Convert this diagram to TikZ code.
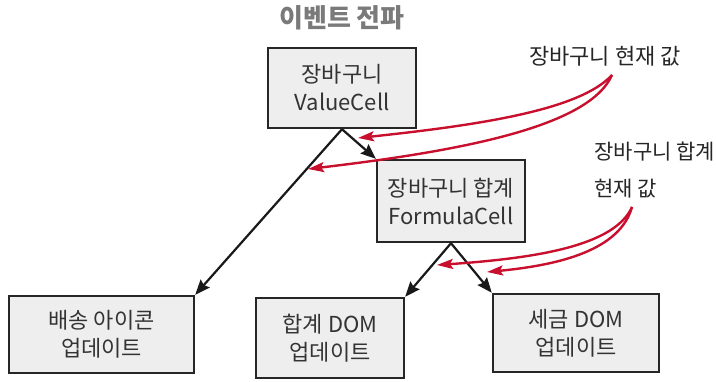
\documentclass[tikz,border=0pt]{standalone}
\usepackage{fontspec}
\setmainfont{Noto Sans CJK KR}
\usepackage{xcolor}
\usetikzlibrary{positioning, arrows.meta}
\definecolor{boxfill}{HTML}{EEEEEE}
\definecolor{evred}{HTML}{C8102E}
\definecolor{titlegray}{HTML}{7A7A7A}

\begin{document}
\begin{tikzpicture}[x=1pt,y=-1pt,
  cellbox/.style={draw=black!85,line width=2.4pt,fill=boxfill,align=center,
    text=black!80,inner sep=0pt,font=\fontsize{22}{28}\selectfont},
  propline/.style={draw=black!90,line width=2.2pt,-{Stealth[length=15pt,width=12pt,inset=2pt]}},
  evline/.style={draw=evred,line width=2.4pt,-{Stealth[length=16pt,width=10pt,inset=3pt]}},
  evlabel/.style={text=black!85,font=\fontsize{21}{26}\selectfont}]
  \useasboundingbox (0,0) rectangle (716,382);
  \node[font=\bfseries\fontsize{26}{30}\selectfont,text=titlegray] (title) at (342,18) {이벤트 전파};
  % cells
  \node[cellbox,minimum width=148pt,minimum height=80pt] (vc) at (342,88) {장바구니\\ValueCell};
  \node[cellbox,minimum width=148pt,minimum height=82pt] (fc) at (451,201) {장바구니 합계\\FormulaCell};
  \node[cellbox,minimum width=185pt,minimum height=77pt] (ship) at (101.5,334.5) {배송 아이콘\\업데이트};
  \node[cellbox,minimum width=148pt,minimum height=80pt] (sum) at (330,338) {합계 DOM\\업데이트};
  \node[cellbox,minimum width=166pt,minimum height=78pt] (tax) at (576,333) {세금 DOM\\업데이트};
  % propagation
  \draw[propline] (vc.south) -- (ship.north east);
  \draw[propline] (vc.south) -- (fc.north west);
  \draw[propline] (fc.south) -- (sum.north east);
  \draw[propline] (fc.south) -- (tax.north west);
  % events
  \node[evlabel,font=\fontsize{22}{26}\selectfont] (cartval) at (605,56) {장바구니 현재 값};
  \node[evlabel,align=left,anchor=west,font=\fontsize{21}{37}\selectfont] (sumval) at (591,170) {장바구니 합계\\현재 값};
  \coordinate (src1) at (612,75);
  \coordinate (src2) at (632,207);
  \coordinate (tgt1) at (358,138);
  \coordinate (tgt2) at (308,169);
  \coordinate (tgt3) at (437,265);
  \coordinate (tgt4) at (487,272);
  \draw[evline] (src1) .. controls (580,110) and (480,125) .. (tgt1);
  \draw[evline] (src1) .. controls (590,125) and (470,150) .. (tgt2);
  \draw[evline] (src2) .. controls (615,245) and (540,258) .. (tgt3);
  \draw[evline] (src2) .. controls (620,250) and (560,265) .. (tgt4);
\end{tikzpicture}
\end{document}
